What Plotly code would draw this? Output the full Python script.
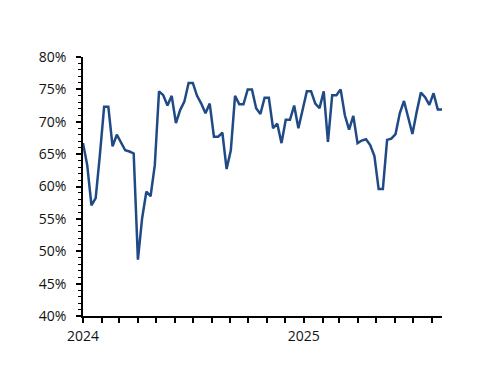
import pandas as pd
import plotly.graph_objects as go

start_date = "2024-01-01"
values = [66.7, 63.3, 57.1, 58.2, 64.9, 72.3, 72.3, 66.2, 68.0, 66.8,
          65.6, 65.4, 65.1, 48.7, 55.1, 59.2, 58.5, 63.3, 74.7, 74.1,
          72.5, 74.0, 69.8, 71.8, 73.1, 76.0, 76.0, 74.0, 72.8, 71.3,
          72.8, 67.7, 67.7, 68.3, 62.7, 65.6, 74.0, 72.7, 72.7, 75.0,
          75.0, 72.1, 71.2, 73.7, 73.7, 69.0, 69.7, 66.7, 70.3, 70.3,
          72.5, 69.0, 71.8, 74.7, 74.7, 72.8, 72.1, 74.7, 66.9, 74.1,
          74.1, 75.0, 71.0, 68.8, 70.9, 66.7, 67.1, 67.3, 66.4, 64.7,
          59.6, 59.6, 67.2, 67.4, 68.1, 71.3, 73.2, 70.5, 68.1, 71.5,
          74.5, 73.8, 72.6, 74.4, 71.9, 71.9]
dates = pd.date_range(start_date, periods=len(values), freq="7D")
year_ticks = ["2024-01-01", "2025-01-01"]
year_labels = ["2024", "2025"]
y_ticks = [40, 45, 50, 55, 60, 65, 70, 75, 80]
y_labels = [f"{v}%" for v in y_ticks]

fig = go.Figure(go.Scatter(x=dates, y=values, mode="lines",
                           line=dict(color="#1f4a85", width=2.5)))
font = dict(family="Open Sans", size=14, color="#111111")
fig.update_layout(
    width=500, height=386,
    margin=dict(l=75, r=66, t=49, b=78),
    plot_bgcolor="white", paper_bgcolor="white",
    showlegend=False,
    font=font,
)
fig.update_xaxes(
    range=[dates[0], dates[-1]],
    tickmode="array", tickvals=year_ticks, ticktext=year_labels,
    ticks="outside", ticklen=5, tickwidth=1.5, tickcolor="black",
    minor=dict(dtick="M1", tick0="2024-01-01", ticks="outside", ticklen=5,
               tickwidth=1.5, tickcolor="black", showgrid=False),
    showline=True, linecolor="black", linewidth=1.5,
    showgrid=False, zeroline=False, ticklabelstandoff=1,
    tickfont=font, automargin=False,
)
fig.update_yaxes(
    range=[40, 80],
    tickmode="array", tickvals=y_ticks, ticktext=y_labels,
    ticks="outside", ticklen=5, tickwidth=1.5, tickcolor="black",
    minor=dict(dtick=1, tick0=40, ticks="outside", ticklen=3,
               tickwidth=1, tickcolor="black", showgrid=False),
    showline=True, linecolor="black", linewidth=1.5,
    showgrid=False, zeroline=False, ticklabelstandoff=7,
    tickfont=font, automargin=False,
)
fig.write_html("out.html")
